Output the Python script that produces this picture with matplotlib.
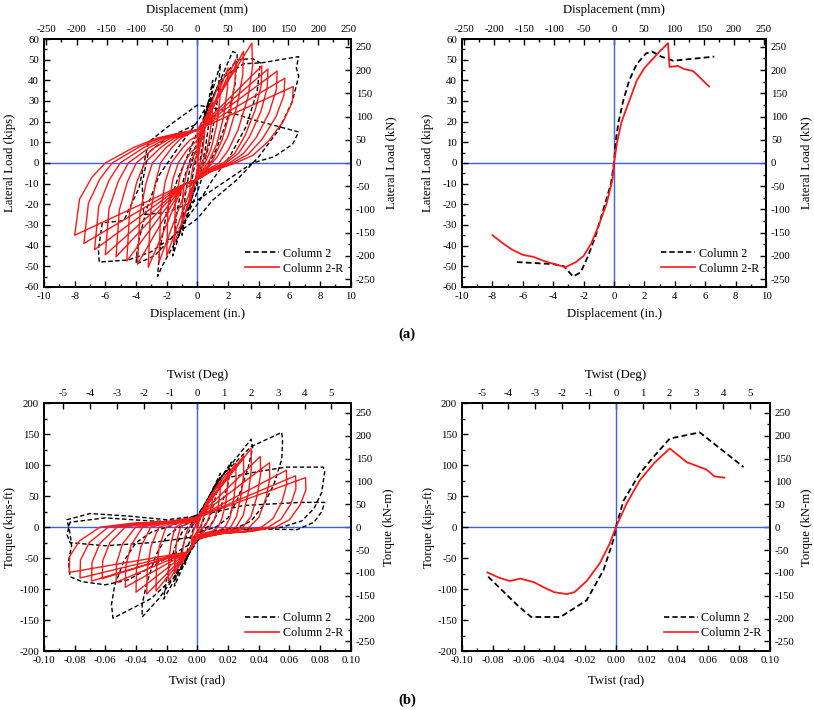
import numpy as np
import matplotlib
matplotlib.use("Agg")
import matplotlib.pyplot as plt
from matplotlib.ticker import MultipleLocator, FuncFormatter

plt.rcParams['font.family'] = ['Liberation Serif', 'DejaVu Serif']
plt.rcParams['axes.unicode_minus'] = False

# ---------------- data ----------------
# hysteresis, Column 2-R, lateral load (in., kips) -- one list per cycle
lat_r_cycles = [
    [(0, 0), (0.25, 12), (0.5, 20), (0.48, 15), (0.4, 9), (0.25, 2), (0.12, -1), (0, -3),
     (-0.25, -12), (-0.5, -20), (-0.47, -10), (-0.3, -2), (-0.15, 2), (0, 4)],
    [(0.5, 18), (1.0, 30), (0.97, 23), (0.8, 13), (0.55, 4), (0.3, 0), (0.1, -3), (0, -5),
     (-0.5, -17), (-1.0, -30), (-0.95, -15), (-0.72, -5), (-0.5, 0), (-0.2, 4), (0, 6)],
    [(0.7, 25), (1.5, 40), (1.47, 31), (1.25, 18), (0.9, 7), (0.5, 0), (0.15, -4), (0, -6),
     (-0.7, -22), (-1.5, -39), (-1.44, -19), (-1.15, -7), (-0.85, 0), (-0.45, 5), (0, 8)],
    [(2.0, 46), (1.96, 36), (1.7, 22), (1.25, 9), (0.75, 1), (0.3, -4), (0, -7),
     (-0.5, -14), (-2.0, -45), (-1.92, -22), (-1.6, -8), (-1.25, 0), (-0.7, 6), (-0.3, 9), (0, 11)],
    [(2.5, 50), (2.46, 40), (2.15, 25), (1.6, 11), (1.0, 1.5), (0.4, -4), (0, -8),
     (-0.7, -12), (-2.5, -48), (-2.4, -24), (-2.1, -9), (-1.7, 0), (-1.0, 7), (-0.5, 11), (0, 13)],
    [(3.0, 54), (2.96, 43), (2.6, 28), (2.0, 13), (1.3, 3), (0.5, -4), (0, -8),
     (-0.9, -10.5), (-3.2, -50.5), (-3.07, -25.3), (-2.75, -10.1), (-2.4, 0), (-1.66, 7.5),
     (-1.06, 12), (-0.45, 14.5), (0, 16)],
    [(3.55, 58), (3.6, 47), (3.3, 32), (2.65, 16), (2.0, 6), (1.4, 0), (0.5, -4), (0, -8),
     (-0.9, -10.5), (-3.9, -49), (-3.74, -24.5), (-3.35, -9.8), (-2.93, 0), (-2.03, 7.5),
     (-1.29, 12), (-0.55, 14.5), (0, 16)],
    [(4.2, 47), (4.16, 37.6), (3.78, 25.9), (3.1, 13.2), (2.44, 4.7), (1.68, 0), (0.63, -4), (0, -8),
     (-0.9, -10.5), (-4.6, -47.5), (-4.42, -23.8), (-3.96, -9.5), (-3.45, 0), (-2.39, 7.5),
     (-1.52, 12), (-0.64, 14.5), (0, 16)],
    [(4.6, 45.5), (4.55, 36.4), (4.14, 25), (3.4, 12.7), (2.67, 4.6), (1.84, 0), (0.69, -4), (0, -8),
     (-0.9, -10.5), (-5.3, -45.5), (-5.09, -22.8), (-4.56, -9.1), (-3.98, 0), (-2.76, 7.5),
     (-1.75, 12), (-0.74, 14.5), (0, 16)],
    [(5.2, 44.5), (5.15, 35.6), (4.68, 24.5), (3.85, 12.5), (3.0, 4.5), (2.08, 0), (0.78, -4), (0, -8),
     (-0.9, -10.5), (-6.0, -44.5), (-5.76, -22.3), (-5.16, -8.9), (-4.5, 0), (-3.12, 7.5),
     (-1.98, 12), (-0.84, 14.5), (0, 16)],
    [(5.7, 41), (5.64, 32.8), (5.13, 22.5), (4.22, 11.5), (3.3, 4.1), (2.28, 0), (0.86, -4), (0, -8),
     (-0.9, -10.5), (-6.7, -42), (-6.43, -21), (-5.76, -8.4), (-5.03, 0), (-3.48, 7.5),
     (-2.21, 12), (-0.94, 14.5), (0, 16)],
    [(6.25, 37), (6.19, 29.6), (5.62, 20.4), (4.62, 10.4), (3.62, 3.7), (2.5, 0), (0.94, -4), (0, -8),
     (-0.9, -10.5), (-7.4, -39), (-7.1, -19.5), (-6.36, -7.8), (-5.55, 0), (-3.85, 7.5),
     (-2.44, 12), (-1.04, 14.5), (0, 16)],
    [(0, -8), (-0.9, -10.5), (-8.0, -35), (-7.68, -17.5), (-6.88, -7), (-6.0, 0), (-4.16, 7.5),
     (-2.64, 12), (-1.12, 14.5), (0, 16)],
]

# hysteresis, Column 2, lateral load
lat_b_cycles = [
    [(0, 0), (0.25, 14), (0.5, 25), (0.35, 10), (0.15, 0), (0, -5), (-0.25, -12), (-0.5, -22),
     (-0.35, -8), (-0.15, 0), (0, 5)],
    [(0.5, 22), (1.0, 40), (0.8, 22), (0.5, 6), (0.25, -2), (0, -8), (-0.5, -20), (-1.0, -35),
     (-0.8, -16), (-0.5, -3), (-0.2, 4), (0, 8)],
    [(0.7, 28), (1.5, 48), (1.3, 30), (0.9, 12), (0.5, 2), (0, -10), (-0.8, -25), (-1.6, -45),
     (-1.35, -24), (-0.9, -8), (-0.4, 3), (0, 10)],
    [(1.2, 35), (2.3, 54), (2.6, 53), (2.45, 38), (1.9, 20), (1.2, 6), (0.4, -5), (0, -14),
     (-1.2, -35), (-2.3, -50), (-2.6, -55), (-2.45, -42), (-2.0, -24), (-1.3, -8), (-0.5, 6), (0, 15)],
    [(1.5, 40), (2.6, 50), (3.6, 50.5), (4.1, 48.5), (3.9, 35), (3.2, 18), (2.1, 3), (1.0, -8), (0, -20),
     (-1.5, -35), (-2.8, -45), (-4.0, -49), (-3.9, -40), (-3.3, -22), (-2.5, -6), (-1.2, 8), (0, 20)],
    [(1.8, 42), (3.0, 48), (4.2, 48.5), (6.6, 51.5), (6.45, 46), (6.6, 42), (6.2, 30), (5.3, 16),
     (4.0, 3), (2.6, -8), (1.0, -18), (0, -27), (-1.5, -35), (-3.0, -43), (-4.5, -47), (-6.4, -48),
     (-6.45, -42), (-6.2, -29), (-4.8, -28), (-3.8, -12), (-3.2, 10), (-1.5, 20), (0, 28)],
    [(1.5, 26), (3.6, 21), (6.6, 15), (6.2, 9), (5.0, 3), (3.6, 0), (2.2, -7), (0, -18),
     (-2.0, -24), (-3.5, -25), (-3.6, -10), (-3.2, 5), (-2.0, 12), (0, 19)],
]

# envelopes, lateral load
env_lat_b_x = [-6.4, -4.0, -3.3, -2.7, -2.2, -1.7, -1.2, -0.6, -0.2, 0.0, 0.1, 0.3, 0.6, 1.0, 1.5, 2.1, 2.5, 3.1, 3.9, 6.6]
env_lat_b_y = [-48, -49, -50, -55, -53, -45, -35, -20, -10, 0, 10, 20, 30, 40, 48, 53, 54, 51.5, 49.5, 51.5]
env_lat_r_x = [-8.0, -7.3, -6.7, -6.0, -5.3, -4.6, -3.9, -3.2, -2.5, -2.0, -1.5, -1.0, -0.5, -0.1, 0.0,
               0.2, 0.5, 1.0, 1.5, 2.0, 2.5, 3.0, 3.55, 3.65, 4.2, 4.6, 5.2, 5.7, 6.25]
env_lat_r_y = [-35, -39, -42, -44.5, -45.5, -47.5, -49, -50.5, -48, -45, -39, -30, -20, -8, 0,
               10, 20, 30, 40, 46, 50, 54, 58, 46.5, 47, 45.5, 44.5, 41, 37]

# hysteresis, Column 2-R, torque (rad, kip-ft)
tor_r_cycles = [
    [(0, 0), (0.0025, 20), (0.005, 35), (0.0045, 22), (0.003, 8), (0.0015, -2), (0, -6),
     (-0.002, -14), (-0.004, -26), (-0.0035, -14), (-0.002, -2), (-0.001, 3), (0, 6)],
    [(0.004, 30), (0.01, 55), (0.0097, 40), (0.008, 20), (0.006, 6), (0.004, 0), (0.002, -5), (0, -10),
     (-0.004, -30), (-0.01, -58), (-0.0095, -35), (-0.008, -15), (-0.006, -2), (-0.003, 5), (0, 9)],
    [(0.006, 40), (0.015, 75), (0.0148, 56), (0.0135, 33), (0.011, 12), (0.008, 0), (0.004, -7), (0, -14),
     (-0.006, -38), (-0.015, -75), (-0.0145, -48), (-0.0135, -22), (-0.011, 0), (-0.007, 6), (-0.003, 9), (0, 12)],
    [(0.008, 48), (0.02, 90), (0.0198, 68), (0.0185, 40), (0.016, 14), (0.0135, 0), (0.009, -7), (0.004, -10), (0, -16),
     (-0.006, -40), (-0.019, -87), (-0.0187, -56), (-0.0172, -26), (-0.0145, 0), (-0.0095, 6.5), (-0.0046, 9), (0, 14)],
    [(0.025, 103), (0.0252, 77), (0.0237, 46), (0.0212, 15), (0.018, 0), (0.0125, -7), (0.006, -10), (0, -18),
     (-0.006, -40), (-0.027, -103), (-0.0267, -67), (-0.0248, -31), (-0.0205, 0), (-0.0135, 6.5), (-0.0065, 9), (0, 16)],
    [(0.03, 115), (0.0302, 86), (0.0285, 52), (0.0255, 17), (0.0216, 0), (0.015, -7), (0.0075, -10), (0, -18),
     (-0.006, -40), (-0.033, -108), (-0.0327, -70), (-0.0304, -32), (-0.0251, 0), (-0.0165, 6.5), (-0.0079, 9), (0, 16)],
    [(0.035, 127), (0.0352, 95), (0.0333, 57), (0.0298, 19), (0.0252, 0), (0.0175, -7), (0.0088, -10), (0, -18),
     (-0.006, -40), (-0.04, -105), (-0.0397, -68), (-0.0368, -31.5), (-0.0304, 0), (-0.02, 6.5), (-0.0096, 9), (0, 16)],
    [(0.041, 114), (0.0412, 85.5), (0.039, 51), (0.0349, 17), (0.0295, 0), (0.0205, -7), (0.0103, -10), (0, -18),
     (-0.006, -40), (-0.047, -97), (-0.0467, -63), (-0.0432, -29), (-0.0357, 0), (-0.0235, 6.5), (-0.0113, 9), (0, 16)],
    [(0.047, 104), (0.0472, 78), (0.0447, 47), (0.04, 15.6), (0.0338, 0), (0.0235, -7), (0.0118, -10), (0, -18),
     (-0.006, -40), (-0.053, -89), (-0.0527, -58), (-0.0488, -27), (-0.0403, 0), (-0.0265, 6.5), (-0.0127, 9), (0, 16)],
    [(0.058, 92), (0.0582, 69), (0.0551, 41), (0.0493, 14), (0.0418, 0), (0.029, -7), (0.0145, -10), (0, -18),
     (-0.006, -40), (-0.062, -83), (-0.0617, -54), (-0.057, -25), (-0.0471, 0), (-0.031, 6.5), (-0.0149, 9), (0, 16)],
    [(0.064, 83), (0.0642, 62), (0.0608, 37), (0.0544, 12.5), (0.0461, 0), (0.032, -7), (0.016, -10), (0, -18),
     (-0.006, -40), (-0.069, -87), (-0.0687, -57), (-0.0635, -26), (-0.0524, 0), (-0.0345, 6.5), (-0.0166, 9), (0, 16)],
    [(0.0705, 80), (0.0707, 60), (0.067, 36), (0.06, 12), (0.0508, 0), (0.035, -7), (0.0176, -10), (0, -18),
     (-0.006, -40), (-0.0765, -82), (-0.0762, -53), (-0.0704, -24.6), (-0.0581, 0), (-0.0383, 6.5), (-0.0184, 9), (0, 16)],
    [(0, -18), (-0.006, -40), (-0.0835, -73), (-0.0832, -47), (-0.0768, -22), (-0.0635, 0), (-0.042, 6.5),
     (-0.02, 9), (0, 16)],
]

# hysteresis, Column 2, torque
tor_b_cycles = [
    [(0, 0), (0.004, 30), (0.008, 50), (0.006, 25), (0.003, 5), (0, -8), (-0.004, -30), (-0.008, -60),
     (-0.006, -30), (-0.003, -5), (0, 8)],
    [(0.006, 40), (0.015, 87), (0.012, 50), (0.008, 15), (0.004, 0), (0, -12), (-0.006, -45), (-0.015, -95),
     (-0.012, -55), (-0.008, -18), (-0.004, 0), (0, 12)],
    [(0.008, 50), (0.022, 105), (0.02, 70), (0.015, 30), (0.009, 5), (0.004, -4), (0, -15), (-0.008, -55),
     (-0.022, -116), (-0.02, -80), (-0.015, -35), (-0.01, -8), (-0.004, 5), (0, 15)],
    [(0.012, 70), (0.035, 142), (0.036, 128), (0.033, 95), (0.027, 50), (0.02, 15), (0.012, 0), (0.004, -6), (0, -20),
     (-0.012, -70), (-0.025, -115), (-0.036, -145), (-0.036, -125), (-0.033, -90), (-0.027, -45), (-0.02, -15),
     (-0.012, 0), (-0.004, 8), (0, 18)],
    [(0.015, 80), (0.035, 130), (0.055, 153), (0.0555, 140), (0.055, 110), (0.05, 70), (0.043, 35), (0.035, 10),
     (0.025, -2), (0.012, -5), (0, -22), (-0.015, -80), (-0.03, -115), (-0.055, -147), (-0.056, -125),
     (-0.054, -95), (-0.048, -55), (-0.04, -25), (-0.03, -8), (-0.015, 4), (0, 20)],
    [(0.02, 80), (0.04, 90), (0.058, 97), (0.082, 97), (0.083, 90), (0.081, 56), (0.076, 30), (0.068, 10),
     (0.055, 0), (0.04, -3), (0.02, -5), (0, -20), (-0.02, -50), (-0.045, -85), (-0.06, -93), (-0.075, -88),
     (-0.083, -80), (-0.084, -55), (-0.082, -30), (-0.083, -10), (-0.085, 12), (-0.07, 22), (-0.045, 18),
     (-0.02, 12), (0, 18)],
    [(0.03, 35), (0.067, 40), (0.083, 40), (0.081, 25), (0.076, 8), (0.065, -4), (0.045, -3), (0.02, -3),
     (0, -15), (-0.03, -25), (-0.06, -30), (-0.083, -25), (-0.085, -12), (-0.083, 8), (-0.06, 15),
     (-0.03, 10), (0, 8)],
]

# envelopes, torque
env_tor_b_x = [-0.083, -0.064, -0.055, -0.036, -0.019, -0.008, -0.001, 0.0, 0.005, 0.0156, 0.025, 0.035, 0.0545, 0.083]
env_tor_b_y = [-80, -126, -145, -145, -118, -69, -16, 0, 43, 87, 115, 143, 153, 97]
env_tor_r_x = [-0.0835, -0.0765, -0.069, -0.062, -0.053, -0.047, -0.040, -0.032, -0.027, -0.019, -0.0104,
               -0.0039, 0.0, 0.0071, 0.0156, 0.0247, 0.035, 0.046, 0.059, 0.064, 0.0705]
env_tor_r_y = [-73, -81, -87, -83, -89, -97, -105, -108, -105, -87, -58,
               -26, 0, 38.7, 75.8, 103, 127, 105, 93, 82, 80]

RED = '#ff1a1a'
BLUE = '#3a5cff'
DASH = (0, (3.2, 1.8))
TICK_FS = 7.8
LABEL_FS = 9.2


def cycles_xy(cycles):
    pts = [p for c in cycles for p in c]
    return [p[0] for p in pts], [p[1] for p in pts]


def tick_params(a):
    a.tick_params(which='both', direction='in', labelsize=TICK_FS, width=1)
    a.tick_params(which='major', length=4)
    a.tick_params(which='minor', length=2)
    for s in a.spines.values():
        s.set_linewidth(1.4)


def style_axes(ax, xlim, ylim, xmaj, xmin, ymaj, ymin):
    ax.set_xlim(*xlim)
    ax.set_ylim(*ylim)
    ax.xaxis.set_major_locator(MultipleLocator(xmaj))
    ax.xaxis.set_minor_locator(MultipleLocator(xmin))
    ax.yaxis.set_major_locator(MultipleLocator(ymaj))
    ax.yaxis.set_minor_locator(MultipleLocator(ymin))
    tick_params(ax)
    ax.axhline(0, color=BLUE, lw=1, zorder=1)
    ax.axvline(0, color=BLUE, lw=1, zorder=1)


def add_secondary(ax, kind):
    if kind == 'lat':
        top = ax.secondary_xaxis('top', functions=(lambda x: x * 25.4, lambda x: x / 25.4))
        top.xaxis.set_major_locator(MultipleLocator(50))
        top.xaxis.set_minor_locator(MultipleLocator(25))
        top.set_xlabel('Displacement (mm)', fontsize=LABEL_FS, labelpad=9)
        right = ax.secondary_yaxis('right', functions=(lambda y: y * 4.448, lambda y: y / 4.448))
        right.set_ylabel('Lateral Load (kN)', fontsize=LABEL_FS, labelpad=7)
    else:
        top = ax.secondary_xaxis('top', functions=(lambda x: np.degrees(x), lambda x: np.radians(x)))
        top.xaxis.set_major_locator(MultipleLocator(1))
        top.set_xlabel('Twist (Deg)', fontsize=LABEL_FS, labelpad=8)
        right = ax.secondary_yaxis('right', functions=(lambda y: y * 1.3558, lambda y: y / 1.3558))
        right.set_ylabel('Torque (kN-m)', fontsize=LABEL_FS, labelpad=5)
    right.yaxis.set_major_locator(MultipleLocator(50))
    right.yaxis.set_minor_locator(MultipleLocator(25))
    tick_params(top)
    tick_params(right)


def add_legend(ax):
    h1, = ax.plot([], [], color='black', ls=DASH, lw=1.2, label='Column 2')
    h2, = ax.plot([], [], color=RED, lw=1.2, label='Column 2-R')
    ax.legend(handles=[h1, h2], loc='lower left', bbox_to_anchor=(0.64, 0.03), frameon=False,
              fontsize=8.7, handlelength=2.8, handletextpad=0.3, labelspacing=0.25, borderaxespad=0)


fig = plt.figure(figsize=(8.14, 7.10), dpi=100)
ax1 = fig.add_axes([0.054, 0.596, 0.377, 0.349])
ax2 = fig.add_axes([0.5676, 0.596, 0.3735, 0.349])
ax3 = fig.add_axes([0.054, 0.083, 0.377, 0.349])
ax4 = fig.add_axes([0.5676, 0.083, 0.378, 0.349])

# (a) lateral load
bx, by = cycles_xy(lat_b_cycles)
rx, ry = cycles_xy(lat_r_cycles)
ax1.plot(bx, by, color='black', ls=DASH, lw=1.0, zorder=2)
ax1.plot(rx, ry, color=RED, lw=1.0, zorder=3)
ax2.plot(env_lat_b_x, env_lat_b_y, color='black', ls=DASH, lw=1.3, zorder=2)
ax2.plot(env_lat_r_x, env_lat_r_y, color=RED, lw=1.3, zorder=3)
for ax in (ax1, ax2):
    style_axes(ax, (-10, 10), (-60, 60), 2, 1, 10, 5)
    ax.set_xlabel('Displacement (in.)', fontsize=LABEL_FS, labelpad=5)
    ax.set_ylabel('Lateral Load (kips)', fontsize=LABEL_FS, labelpad=6)
    add_secondary(ax, 'lat')
    add_legend(ax)

# (b) torque
bx, by = cycles_xy(tor_b_cycles)
rx, ry = cycles_xy(tor_r_cycles)
ax3.plot(bx, by, color='black', ls=DASH, lw=1.0, zorder=2)
ax3.plot(rx, ry, color=RED, lw=1.0, zorder=3)
ax4.plot(env_tor_b_x, env_tor_b_y, color='black', ls=DASH, lw=1.3, zorder=2)
ax4.plot(env_tor_r_x, env_tor_r_y, color=RED, lw=1.3, zorder=3)
for ax in (ax3, ax4):
    style_axes(ax, (-0.1, 0.1), (-200, 200), 0.02, 0.01, 50, 25)
    ax.xaxis.set_major_formatter(FuncFormatter(lambda v, p: '%.2f' % (0.0 if abs(v) < 1e-9 else v)))
    ax.set_xlabel('Twist (rad)', fontsize=LABEL_FS, labelpad=7)
    ax.set_ylabel('Torque (kips-ft)', fontsize=LABEL_FS, labelpad=2)
    add_secondary(ax, 'tor')
    add_legend(ax)

fig.text(0.5, 0.529, '(a)', fontsize=10.5, fontweight='bold', ha='center', va='center')
fig.text(0.5, 0.014, '(b)', fontsize=10.5, fontweight='bold', ha='center', va='center')

fig.savefig('out.png', dpi=100)
